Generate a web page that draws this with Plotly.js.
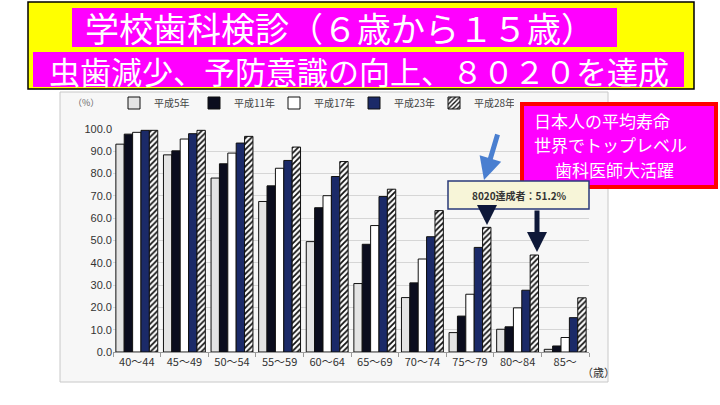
<!DOCTYPE html>
<html><head><meta charset="utf-8">
<script src="https://cdn.plot.ly/plotly-3.0.1.min.js"></script>
<style>html,body{margin:0;padding:0;background:#fff;}#chart{width:720px;height:405px;}</style>
</head><body><div id="chart"></div>
<script>
const categories = ["40〜44","45〜49","50〜54","55〜59","60〜64","65〜69","70〜74","75〜79","80〜84","85〜"];
const seriesNames = ["平成5年","平成11年","平成17年","平成23年","平成28年"];
const h5  = [93.2, 88.4, 78.0, 67.5, 49.5, 30.7, 24.4,  8.7, 10.2,  1.2];
const h11 = [97.7, 90.2, 84.4, 74.5, 64.7, 48.3, 31.0, 16.1, 11.3,  2.7];
const h17 = [98.5, 95.5, 89.2, 82.4, 70.1, 56.7, 41.7, 25.9, 19.8,  6.5];
const h23 = [99.4, 97.9, 93.7, 85.9, 78.7, 69.7, 51.7, 46.9, 27.7, 15.4];
const h28 = [99.4, 99.4, 96.7, 91.9, 85.4, 73.0, 63.4, 55.9, 43.5, 24.3];
const titleLine1 = "学校歯科検診（６歳から１５歳）";
const titleLine2 = "虫歯減少、予防意識の向上、８０２０を達成";
const boxLines = ["日本人の平均寿命","世界でトップレベル","歯科医師大活躍"];
const calloutText = "8020達成者：51.2%";

// pixel -> paper helpers (plot area: x 113..589, y 129..352)
const L=113, R=589, T=129, B=352;
const px = x => (x-L)/(R-L);
const py = y => (B-y)/(B-T);

const lineBlk = {color:'#111', width:1};
const traces = [
  {name:seriesNames[0], y:h5,  marker:{color:'#e4e4e4', line:lineBlk}},
  {name:seriesNames[1], y:h11, marker:{color:'#0b0d1e', line:lineBlk}},
  {name:seriesNames[2], y:h17, marker:{color:'#ffffff', line:lineBlk}},
  {name:seriesNames[3], y:h23, marker:{color:'#1b2a68', line:lineBlk}},
  {name:seriesNames[4], y:h28, marker:{color:'#ffffff', line:lineBlk,
     pattern:{shape:'/', fgcolor:'#111', bgcolor:'#ffffff', size:4, solidity:0.45}}}
].map(t => Object.assign({type:'bar', x:categories, hoverinfo:'skip'}, t));

const jp = "Noto Sans CJK JP, sans-serif";
const shapes = [
  {type:'rect', xref:'paper', yref:'paper', x0:px(60), x1:px(608), y0:py(382), y1:py(92),
   fillcolor:'#f7f7f7', line:{color:'#c8c8c8', width:1}, layer:'below'},
  {type:'rect', xref:'paper', yref:'paper', x0:px(28), x1:px(694), y0:py(89), y1:py(2),
   fillcolor:'#ffff00', line:{color:'#000', width:1.5}, layer:'above'},
  {type:'rect', xref:'paper', yref:'paper', x0:px(72), x1:px(617), y0:py(47), y1:py(8),
   fillcolor:'#ff00ff', line:{width:0}, layer:'above'},
  {type:'rect', xref:'paper', yref:'paper', x0:px(33), x1:px(684), y0:py(87), y1:py(52),
   fillcolor:'#ff00ff', line:{width:0}, layer:'above'},
  {type:'rect', xref:'paper', yref:'paper', x0:px(522), x1:px(716), y0:py(187), y1:py(104),
   fillcolor:'#ff00ff', line:{color:'#ff0000', width:4}, layer:'above'},
  {type:'rect', xref:'paper', yref:'paper', x0:px(448), x1:px(589), y0:py(209), y1:py(181),
   fillcolor:'#f7f5d8', line:{color:'#2a3a7a', width:1.5}, layer:'above'}
];

function txt(t, x, y, size, color, xa, extra) {
  return Object.assign({text:t, xref:'paper', yref:'paper', x:px(x), y:py(y), showarrow:false,
    xanchor:xa||'center', yanchor:'middle', font:{family:jp, size:size, color:color}}, extra||{});
}
const annotations = [
  txt(titleLine1, 340, 27, 34, '#ffffff'),
  txt(titleLine2, 359, 70.5, 31, '#ffffff'),
  txt(boxLines[0], 532, 121, 17, '#ffffff', 'left'),
  txt(boxLines[1], 532, 144.5, 17, '#ffffff', 'left'),
  txt(boxLines[2], 553, 169, 17, '#ffffff', 'left'),
  txt('<b>'+calloutText+'</b>', 519, 195, 10, '#333'),
  txt('（%）', 86, 102, 9, '#666'),
  txt('（歳）', 598, 372, 11, '#333'),
  {text:'', xref:'paper', yref:'paper', x:px(484), y:py(180), ax:14, ay:-47, showarrow:true,
   arrowhead:2, arrowsize:0.9, arrowwidth:5, arrowcolor:'#4a7fd0'},
  {text:'', xref:'paper', yref:'paper', x:px(487), y:py(225), ax:0, ay:-16, showarrow:true,
   arrowhead:2, arrowsize:0.8, arrowwidth:5, arrowcolor:'#0e1838'},
  {text:'', xref:'paper', yref:'paper', x:px(537), y:py(252), ax:0, ay:-43, showarrow:true,
   arrowhead:2, arrowsize:0.8, arrowwidth:5, arrowcolor:'#0e1838'}
];

const layout = {
  width:720, height:405,
  margin:{l:L, r:720-R, t:T, b:405-B, pad:0},
  paper_bgcolor:'#ffffff', plot_bgcolor:'rgba(0,0,0,0)',
  barmode:'group', bargap:0.12, bargroupgap:0,
  showlegend:true,
  legend:{orientation:'h', x:px(114), y:py(103), xanchor:'left', yanchor:'middle',
    bgcolor:'rgba(0,0,0,0)', font:{family:jp, size:10, color:'#444'},
    entrywidth:35, entrywidthmode:'pixels', itemwidth:30, traceorder:'normal'},
  xaxis:{type:'category', showgrid:false, showline:true, linecolor:'#999', linewidth:1,
    ticks:'outside', tickson:'boundaries', ticklen:4, tickcolor:'#999',
    tickfont:{family:jp, size:11, color:'#333'}, fixedrange:true},
  yaxis:{range:[0,100], dtick:10, tickformat:'.1f', showgrid:true, gridcolor:'#d6d6d6', gridwidth:1,
    zeroline:false, showline:false, ticks:'', 
    tickfont:{family:'Liberation Sans, Arial, sans-serif', size:11, color:'#333'}, fixedrange:true},
  shapes:shapes, annotations:annotations
};
Plotly.newPlot('chart', traces, layout, {staticPlot:true, displayModeBar:false});
</script></body></html>
